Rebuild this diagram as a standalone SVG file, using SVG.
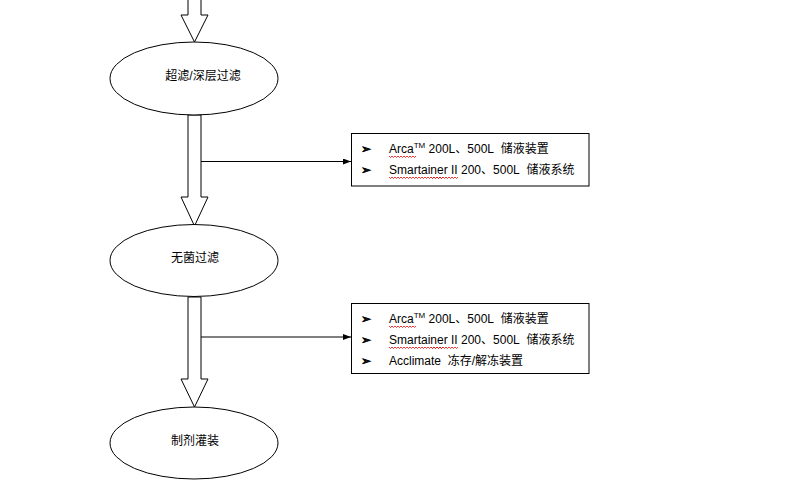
<svg xmlns="http://www.w3.org/2000/svg" width="790" height="491" viewBox="0 0 790 491">
<style>
.sh{fill:#fff;stroke:#000;stroke-width:1}
.t{font-family:"Liberation Sans","Noto Sans CJK SC",sans-serif;font-size:12px;fill:#000}
.b{font-family:"DejaVu Sans",sans-serif;font-size:12px;font-weight:bold;fill:#000;stroke:#000;stroke-width:0.7}
.c{text-anchor:middle}
.ln{stroke:#000;stroke-width:1;fill:none}
.sq{stroke:#e00;stroke-width:0.8;fill:none}
</style>
<defs>
<marker id="ah" markerWidth="8" markerHeight="6" refX="8" refY="3" orient="auto" markerUnits="userSpaceOnUse">
<path d="M0,0 L8,3 L0,6 Z" fill="#000"/>
</marker>
<path id="wv" d="M0,0 l1.5,1.5 l1.5,-1.5 l1.5,1.5 l1.5,-1.5 l1.5,1.5 l1.5,-1.5 l1.5,1.5 l1.5,-1.5 l1.5,1.5 l1.5,-1.5 l1.5,1.5 l1.5,-1.5 l1.5,1.5 l1.5,-1.5 l1.5,1.5 l1.5,-1.5 l1.5,1.5 l1.5,-1.5"/>
</defs>
<rect width="790" height="491" fill="#fff"/>
<g id="connectors">
<polygon class="sh" points="188,-1 201,-1 201,15 208,15 194.5,42 181,15 188,15"/>
<polygon class="sh" points="188,115 201,115 201,197 208,197 194.5,226 181,197 188,197"/>
<polygon class="sh" points="188,297 201,297 201,379 208,379 194.5,407 181,379 188,379"/>
<line class="ln" x1="201" y1="161.5" x2="351" y2="161.5" marker-end="url(#ah)"/>
<line class="ln" x1="201" y1="337" x2="351" y2="337" marker-end="url(#ah)"/>
</g>
<g id="node-uf">
<ellipse class="sh" cx="194" cy="78.5" rx="84" ry="36.5"/>
<text class="t c" x="203" y="80">超滤/深层过滤</text>
</g>
<g id="node-sterile">
<ellipse class="sh" cx="194" cy="260.5" rx="84" ry="36"/>
<text class="t c" x="195" y="262">无菌过滤</text>
</g>
<g id="node-fill">
<ellipse class="sh" cx="194" cy="443" rx="84" ry="36"/>
<text class="t c" x="195" y="445">制剂灌装</text>
</g>
<g id="box1">
<rect class="sh" x="351.5" y="133.5" width="237.5" height="52.5"/>
<text class="b" x="361" y="153">➢</text>
<text class="t" x="389" y="153">Arca<tspan font-size="8" dy="-5">TM</tspan><tspan dy="5"> 200L、500L&#160; 储液装置</tspan></text>
<use href="#wv" class="sq" x="389" y="156"/>
<text class="b" x="361" y="174">➢</text>
<text class="t" x="389" y="174">Smartainer II 200、500L&#160; 储液系统</text>
<use href="#wv" class="sq" x="389" y="177"/>
<use href="#wv" class="sq" x="416" y="177"/>
<use href="#wv" class="sq" x="431" y="177"/>
</g>
<g id="box2">
<rect class="sh" x="351.5" y="303.5" width="237.5" height="70"/>
<text class="b" x="361" y="323">➢</text>
<text class="t" x="389" y="323">Arca<tspan font-size="8" dy="-5">TM</tspan><tspan dy="5"> 200L、500L&#160; 储液装置</tspan></text>
<use href="#wv" class="sq" x="389" y="326"/>
<text class="b" x="361" y="344">➢</text>
<text class="t" x="389" y="344">Smartainer II 200、500L&#160; 储液系统</text>
<use href="#wv" class="sq" x="389" y="347"/>
<use href="#wv" class="sq" x="416" y="347"/>
<use href="#wv" class="sq" x="431" y="347"/>
<text class="b" x="361" y="365">➢</text>
<text class="t" x="389" y="365">Acclimate&#160; 冻存/解冻装置</text>
</g>
</svg>
